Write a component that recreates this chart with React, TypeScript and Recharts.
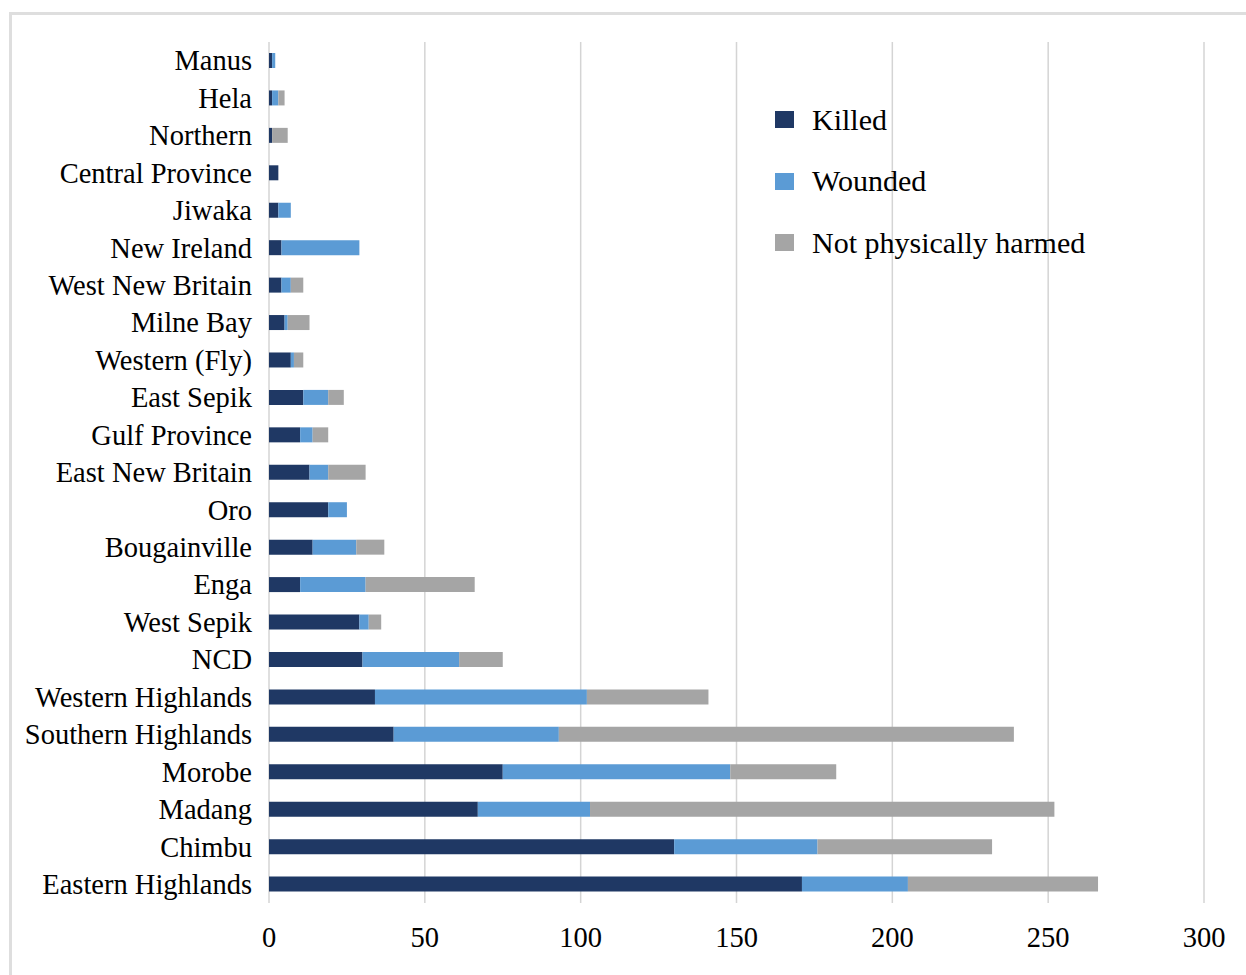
import React from "react";
import { BarChart, Bar, XAxis, YAxis, CartesianGrid } from "recharts";

const provinces = [
  "Manus",
  "Hela",
  "Northern",
  "Central Province",
  "Jiwaka",
  "New Ireland",
  "West New Britain",
  "Milne Bay",
  "Western (Fly)",
  "East Sepik",
  "Gulf Province",
  "East New Britain",
  "Oro",
  "Bougainville",
  "Enga",
  "West Sepik",
  "NCD",
  "Western Highlands",
  "Southern Highlands",
  "Morobe",
  "Madang",
  "Chimbu",
  "Eastern Highlands",
];

const killed = [1, 1, 1, 3, 3, 4, 4, 5, 7, 11, 10, 13, 19, 14, 10, 29, 30, 34, 40, 75, 67, 130, 171];
const wounded = [1, 2, 0, 0, 4, 25, 3, 1, 1, 8, 4, 6, 6, 14, 21, 3, 31, 68, 53, 73, 36, 46, 34];
const notHarmed = [0, 2, 5, 0, 0, 0, 4, 7, 3, 5, 5, 12, 0, 9, 35, 4, 14, 39, 146, 34, 149, 56, 61];

const xTicks = [0, 50, 100, 150, 200, 250, 300];

const seriesNames = ["Killed", "Wounded", "Not physically harmed"];
const seriesColors = ["#1F3864", "#5B9BD5", "#A5A5A5"];

const data = provinces.map((name, i) => ({
  name,
  killed: killed[i],
  wounded: wounded[i],
  notHarmed: notHarmed[i],
}));

const FONT = "'Liberation Serif', 'Times New Roman', serif";

const YTick = (props: any) => {
  const { y, payload } = props;
  return (
    <text x={252} y={y} dy="0.34em" textAnchor="end" fontFamily={FONT} fontSize={28.5} fill="#000">
      {payload.value}
    </text>
  );
};

const XTick = (props: any) => {
  const { x, payload } = props;
  return (
    <text x={x} y={937} dy="0.34em" textAnchor="middle" fontFamily={FONT} fontSize={28.5} fill="#000">
      {payload.value}
    </text>
  );
};

const LegendBox = () => (
  <div
    style={{
      position: "absolute",
      left: 775,
      top: 89,
      fontFamily: FONT,
      fontSize: 30,
      color: "#000",
    }}
  >
    {seriesNames.map((n, i) => (
      <div key={n} style={{ display: "flex", alignItems: "center", height: 61.5 }}>
        <span
          style={{
            display: "inline-block",
            width: 19,
            height: 17,
            background: seriesColors[i],
            marginRight: 18,
          }}
        />
        <span style={{ whiteSpace: "nowrap" }}>{n}</span>
      </div>
    ))}
  </div>
);

export default function App() {
  return (
    <div style={{ position: "absolute", left: 0, top: 0, width: 1246, height: 975, background: "#fff", overflow: "hidden" }}>
      <div
        style={{
          position: "absolute",
          left: 9,
          top: 12,
          width: 1260,
          height: 1000,
          border: "3px solid #dedede",
          boxSizing: "border-box",
        }}
      />
      <BarChart
        width={1246}
        height={975}
        data={data}
        layout="vertical"
        margin={{ top: 42, right: 42, bottom: 0, left: 0 }}
        barSize={15}
      >
        <CartesianGrid horizontal={false} stroke="#d4d4d4" strokeWidth={1.5} />
        <XAxis
          type="number"
          domain={[0, 300]}
          ticks={xTicks}
          axisLine={false}
          tickLine={false}
          height={72}
          tick={<XTick />}
          interval={0}
        />
        <YAxis
          type="category"
          dataKey="name"
          width={269}
          axisLine={false}
          tickLine={false}
          tick={<YTick />}
          interval={0}
        />
        <Bar dataKey="killed" name={seriesNames[0]} stackId="a" fill={seriesColors[0]} isAnimationActive={false} />
        <Bar dataKey="wounded" name={seriesNames[1]} stackId="a" fill={seriesColors[1]} isAnimationActive={false} />
        <Bar dataKey="notHarmed" name={seriesNames[2]} stackId="a" fill={seriesColors[2]} isAnimationActive={false} />
      </BarChart>
      <LegendBox />
    </div>
  );
}
